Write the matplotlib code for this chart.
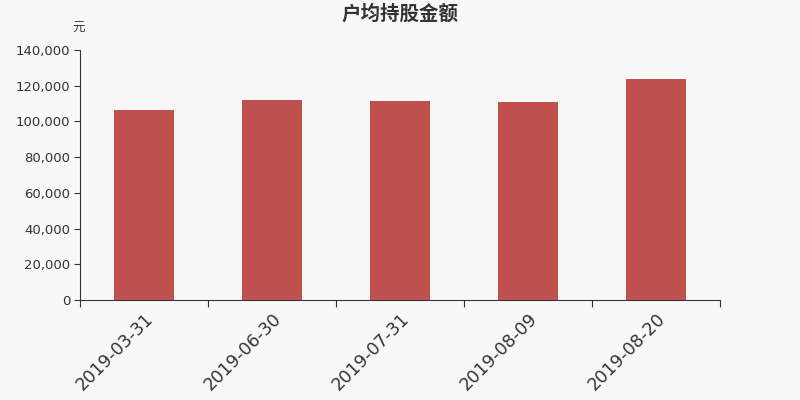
import numpy as np
import matplotlib
matplotlib.use('Agg')
import matplotlib.pyplot as plt

plt.rcParams['font.family'] = ['DejaVu Sans', 'Noto Sans CJK SC']

### data
dates = ['2019-03-31', '2019-06-30', '2019-07-31', '2019-08-09', '2019-08-20']
values = [106400, 112000, 111600, 110700, 123600]
yticks = np.arange(0, 140001, 20000)

### plotting
bg = '#f8f8f8'
fig = plt.figure(figsize=(8, 4), dpi=100, facecolor=bg)
ax = fig.add_axes([0.1, 0.25, 0.8, 0.625], facecolor=bg)

x = np.arange(len(dates))
ax.bar(x, values, width=0.47, color='#c0504d', zorder=3)

ax.set_xlim(-0.5, len(dates) - 0.5)
ax.set_ylim(0, 140000)
ax.set_yticks(yticks)
ax.set_yticklabels(['{:,}'.format(v) for v in yticks], fontsize=9.5, color='#333333')
ax.set_xticks(np.arange(-0.5, len(dates), 1.0))
ax.set_xticklabels([])
ax.set_xticks(x, minor=True)
ax.set_xticklabels(dates, minor=True, rotation=45, ha='right', va='top',
                   rotation_mode='anchor', fontsize=12.5, color='#333333')
ax.tick_params(axis='x', which='minor', length=0, pad=7)
ax.tick_params(axis='x', which='major', length=5, color='#333333')
ax.tick_params(axis='y', length=4, color='#333333', pad=3)

for s in ['top', 'right']:
    ax.spines[s].set_visible(False)
for s in ['left', 'bottom']:
    ax.spines[s].set_color('#333333')

fig.text(0.5, 0.965, '户均持股金额', ha='center', va='center', fontsize=14,
         fontweight='bold', color='#333333')
fig.text(0.098, 0.93, '元', ha='center', va='center', fontsize=9, color='#333333')

plt.savefig('out.png', dpi=100, facecolor=bg)
